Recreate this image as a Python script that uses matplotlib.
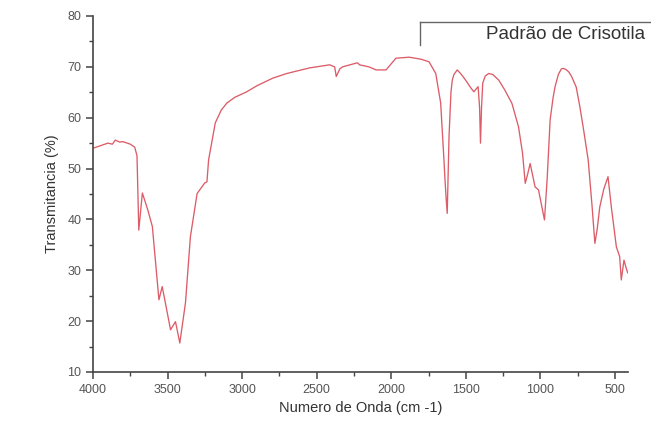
import numpy as np
import matplotlib.pyplot as plt
from matplotlib.lines import Line2D
from matplotlib.ticker import MultipleLocator

# FTIR spectrum
wavenumber = [4000, 3950, 3900, 3870, 3850, 3820, 3800, 3770, 3750, 3720, 3705,
              3693, 3669, 3633, 3602, 3558, 3536, 3480, 3447, 3418, 3380, 3347,
              3302, 3250, 3236, 3225, 3180, 3140, 3102, 3050, 2969, 2900, 2793,
              2700, 2547, 2413, 2380, 2369, 2345, 2327, 2227, 2213, 2150, 2102,
              2035, 1969, 1880, 1800, 1747, 1702, 1669, 1647, 1640, 1632, 1625,
              1613, 1600, 1591, 1580, 1558, 1530, 1502, 1470, 1447, 1418, 1408,
              1402, 1395, 1387, 1370, 1347, 1320, 1280, 1240, 1191, 1147, 1120,
              1102, 1085, 1069, 1036, 1013, 973, 955, 935, 915, 902, 880, 860,
              847, 830, 810, 791, 760, 736, 710, 680, 655, 635, 620, 602, 575,
              547, 525, 491, 469, 458, 440, 425, 415]
transmittance = [54.0, 54.5, 55.0, 54.8, 55.6, 55.2, 55.3, 55.0, 54.8, 54.2,
                 52.5, 37.9, 45.2, 41.9, 38.6, 24.2, 26.8, 18.3, 19.9, 15.7,
                 23.6, 36.6, 45.1, 47.2, 47.4, 51.7, 59.0, 61.5, 62.9, 64.0,
                 65.1, 66.3, 67.8, 68.7, 69.8, 70.4, 70.0, 68.1, 69.6, 70.0,
                 70.8, 70.4, 70.0, 69.4, 69.4, 71.7, 71.9, 71.5, 71.0, 68.7,
                 62.9, 51.7, 47.8, 44.0, 41.2, 56.3, 65.0, 67.4, 68.5, 69.4,
                 68.5, 67.4, 66.0, 65.1, 66.1, 62.0, 55.0, 62.0, 66.8, 68.2,
                 68.7, 68.5, 67.4, 65.5, 62.8, 58.2, 53.0, 47.1, 49.0, 51.0,
                 46.4, 45.8, 39.9, 48.0, 59.6, 64.0, 66.1, 68.5, 69.6, 69.7,
                 69.5, 69.0, 68.1, 66.0, 62.2, 57.5, 51.7, 43.0, 35.3, 38.0,
                 42.5, 46.0, 48.4, 42.5, 34.6, 32.7, 28.1, 32.0, 30.4, 29.5]

plt.rcParams["font.family"] = "Liberation Sans"
fig = plt.figure(figsize=(6.51, 4.28), dpi=100)
ax = fig.add_axes([93 / 651, 56 / 428, 535 / 651, 356 / 428])

ax.plot(wavenumber, transmittance, color="#dc5c68", lw=0.95)

ax.set_xlim(4000, 413)
ax.set_ylim(10, 80)
ax.xaxis.set_major_locator(MultipleLocator(500))
ax.xaxis.set_minor_locator(MultipleLocator(250))
ax.yaxis.set_major_locator(MultipleLocator(10))
ax.yaxis.set_minor_locator(MultipleLocator(5))

for side in ["top", "right"]:
    ax.spines[side].set_visible(False)
for side in ["left", "bottom"]:
    ax.spines[side].set_color("#444444")
    ax.spines[side].set_linewidth(1.2)

ax.tick_params(which="major", direction="out", length=5, width=1.1,
               color="#444444", labelsize=9, labelcolor="#555555")
ax.tick_params(which="minor", direction="out", length=3, width=1.0,
               color="#444444")

ax.set_xlabel("Numero de Onda (cm -1)", fontsize=10.5, color="#333333",
              labelpad=4)
ax.set_ylabel("Transmitancia (%)", fontsize=10.5, color="#333333",
              labelpad=6)

# legend-like bracket at the top right
fig.add_artist(Line2D([420 / 651, 1.0], [1 - 22 / 428, 1 - 22 / 428],
                      color="#666666", lw=1.0))
fig.add_artist(Line2D([420 / 651, 420 / 651], [1 - 22 / 428, 1 - 45 / 428],
                      color="#666666", lw=1.0))
fig.text(645 / 651, 1 - 34.5 / 428, "Padrão de Crisotila", ha="right",
         va="center", fontsize=13.5, color="#333333")

fig.savefig("out.png", dpi=100)
